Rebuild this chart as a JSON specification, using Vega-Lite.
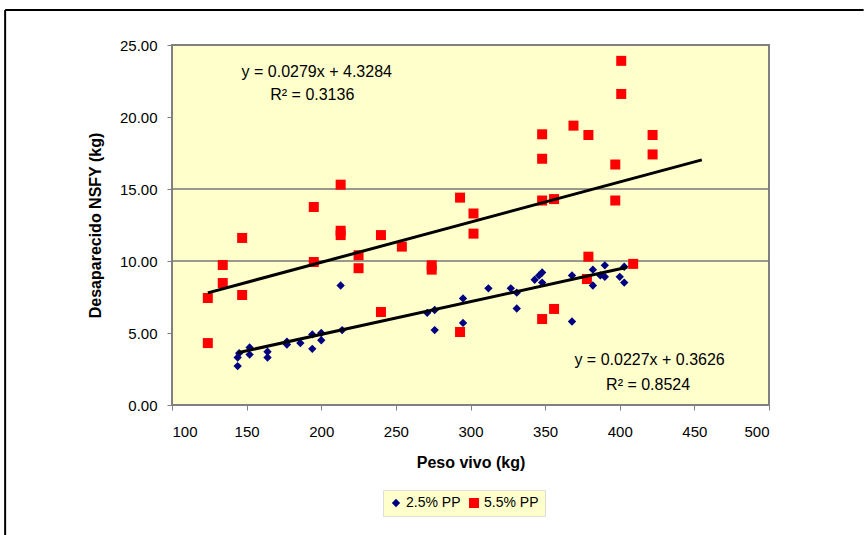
{
  "$schema": "https://vega.github.io/schema/vega-lite/v6.json",
  "width": 597,
  "height": 360,
  "autosize": {"type": "none"},
  "padding": {"left": 172, "top": 45, "right": 95, "bottom": 130},
  "background": "white",
  "config": {
    "font": "Liberation Sans",
    "view": {"fill": "#FFFFCC", "stroke": "#808080", "strokeWidth": 2},
    "axis": {
      "labelFont": "Liberation Sans",
      "labelFontSize": 15,
      "labelColor": "#000000",
      "titleFont": "Liberation Sans",
      "titleFontSize": 16,
      "titleFontWeight": "bold",
      "titleColor": "#000000",
      "grid": false,
      "domain": false,
      "tickColor": "#808080",
      "tickSize": 5
    }
  },
  "datasets": {
    "points": [
      {"x": 124, "y": 7.43, "serie": "5.5% PP"},
      {"x": 124, "y": 4.3, "serie": "5.5% PP"},
      {"x": 134, "y": 9.72, "serie": "5.5% PP"},
      {"x": 134, "y": 8.47, "serie": "5.5% PP"},
      {"x": 147, "y": 11.6, "serie": "5.5% PP"},
      {"x": 147, "y": 7.64, "serie": "5.5% PP"},
      {"x": 195, "y": 13.75, "serie": "5.5% PP"},
      {"x": 195, "y": 9.93, "serie": "5.5% PP"},
      {"x": 213, "y": 15.3, "serie": "5.5% PP"},
      {"x": 213, "y": 12.1, "serie": "5.5% PP"},
      {"x": 213, "y": 11.8, "serie": "5.5% PP"},
      {"x": 225, "y": 10.4, "serie": "5.5% PP"},
      {"x": 225, "y": 9.5, "serie": "5.5% PP"},
      {"x": 240, "y": 11.8, "serie": "5.5% PP"},
      {"x": 240, "y": 6.46, "serie": "5.5% PP"},
      {"x": 254, "y": 11.0, "serie": "5.5% PP"},
      {"x": 274, "y": 9.7, "serie": "5.5% PP"},
      {"x": 274, "y": 9.4, "serie": "5.5% PP"},
      {"x": 293, "y": 14.4, "serie": "5.5% PP"},
      {"x": 293, "y": 5.07, "serie": "5.5% PP"},
      {"x": 302, "y": 13.3, "serie": "5.5% PP"},
      {"x": 302, "y": 11.9, "serie": "5.5% PP"},
      {"x": 348, "y": 18.8, "serie": "5.5% PP"},
      {"x": 348, "y": 17.1, "serie": "5.5% PP"},
      {"x": 348, "y": 14.2, "serie": "5.5% PP"},
      {"x": 348, "y": 5.97, "serie": "5.5% PP"},
      {"x": 356, "y": 14.3, "serie": "5.5% PP"},
      {"x": 356, "y": 6.67, "serie": "5.5% PP"},
      {"x": 369, "y": 19.4, "serie": "5.5% PP"},
      {"x": 379, "y": 18.75, "serie": "5.5% PP"},
      {"x": 379, "y": 10.3, "serie": "5.5% PP"},
      {"x": 378, "y": 8.75, "serie": "5.5% PP"},
      {"x": 397, "y": 16.7, "serie": "5.5% PP"},
      {"x": 397, "y": 14.2, "serie": "5.5% PP"},
      {"x": 401, "y": 23.9, "serie": "5.5% PP"},
      {"x": 401, "y": 21.6, "serie": "5.5% PP"},
      {"x": 409, "y": 9.8, "serie": "5.5% PP"},
      {"x": 422, "y": 18.75, "serie": "5.5% PP"},
      {"x": 422, "y": 17.4, "serie": "5.5% PP"},
      {"x": 144, "y": 2.7, "serie": "2.5% PP"},
      {"x": 144, "y": 3.3, "serie": "2.5% PP"},
      {"x": 145, "y": 3.6, "serie": "2.5% PP"},
      {"x": 152, "y": 4.0, "serie": "2.5% PP"},
      {"x": 152, "y": 3.5, "serie": "2.5% PP"},
      {"x": 164, "y": 3.7, "serie": "2.5% PP"},
      {"x": 164, "y": 3.3, "serie": "2.5% PP"},
      {"x": 177, "y": 4.4, "serie": "2.5% PP"},
      {"x": 177, "y": 4.2, "serie": "2.5% PP"},
      {"x": 186, "y": 4.3, "serie": "2.5% PP"},
      {"x": 194, "y": 4.9, "serie": "2.5% PP"},
      {"x": 194, "y": 3.9, "serie": "2.5% PP"},
      {"x": 200, "y": 5.0, "serie": "2.5% PP"},
      {"x": 200, "y": 4.5, "serie": "2.5% PP"},
      {"x": 214, "y": 5.2, "serie": "2.5% PP"},
      {"x": 213, "y": 8.3, "serie": "2.5% PP"},
      {"x": 271, "y": 6.4, "serie": "2.5% PP"},
      {"x": 276, "y": 6.6, "serie": "2.5% PP"},
      {"x": 276, "y": 5.2, "serie": "2.5% PP"},
      {"x": 295, "y": 7.4, "serie": "2.5% PP"},
      {"x": 295, "y": 5.7, "serie": "2.5% PP"},
      {"x": 312, "y": 8.1, "serie": "2.5% PP"},
      {"x": 327, "y": 8.1, "serie": "2.5% PP"},
      {"x": 331, "y": 7.8, "serie": "2.5% PP"},
      {"x": 331, "y": 6.7, "serie": "2.5% PP"},
      {"x": 343, "y": 8.7, "serie": "2.5% PP"},
      {"x": 346, "y": 9.0, "serie": "2.5% PP"},
      {"x": 348, "y": 8.5, "serie": "2.5% PP"},
      {"x": 348, "y": 9.2, "serie": "2.5% PP"},
      {"x": 368, "y": 9.0, "serie": "2.5% PP"},
      {"x": 368, "y": 5.8, "serie": "2.5% PP"},
      {"x": 382, "y": 9.4, "serie": "2.5% PP"},
      {"x": 382, "y": 8.3, "serie": "2.5% PP"},
      {"x": 387, "y": 9.0, "serie": "2.5% PP"},
      {"x": 390, "y": 9.7, "serie": "2.5% PP"},
      {"x": 390, "y": 8.9, "serie": "2.5% PP"},
      {"x": 403, "y": 9.6, "serie": "2.5% PP"},
      {"x": 403, "y": 8.5, "serie": "2.5% PP"},
      {"x": 400, "y": 8.9, "serie": "2.5% PP"}
    ],
    "trends": [
      {"x": 124, "y": 7.79, "serie": "5.5% PP"},
      {"x": 455, "y": 17.02, "serie": "5.5% PP"},
      {"x": 144, "y": 3.63, "serie": "2.5% PP"},
      {"x": 405, "y": 9.56, "serie": "2.5% PP"}
    ],
    "labels": [
      {"x": 197, "y": 23.1, "label": "y = 0.0279x + 4.3284"},
      {"x": 194, "y": 21.5, "label": "R² = 0.3136"},
      {"x": 420, "y": 3.1, "label": "y = 0.0227x + 0.3626"},
      {"x": 419, "y": 1.4, "label": "R² = 0.8524"}
    ],
    "grid": [{"y": 10}, {"y": 15}],
    "frame": [
      {"x": -11.8, "x2": 563.4, "y": 27.43, "y2": 27.43},
      {"x": -11.8, "x2": -11.8, "y": 27.43, "y2": -9.03}
    ]
  },
  "layer": [
    {
      "data": {"name": "frame"},
      "mark": {"type": "rule", "color": "#000000", "strokeWidth": 2, "clip": false},
      "encoding": {
        "x": {"field": "x", "type": "quantitative", "scale": {"domain": [100, 500], "nice": false, "zero": false}, "title": "Peso vivo (kg)"},
        "x2": {"field": "x2"},
        "y": {"field": "y", "type": "quantitative", "scale": {"domain": [0, 25], "nice": false}, "title": "Desaparecido NSFY (kg)"},
        "y2": {"field": "y2"}
      }
    },
    {
      "data": {"name": "grid"},
      "mark": {"type": "rule", "color": "#777777", "strokeWidth": 1.5},
      "encoding": {
        "y": {"field": "y", "type": "quantitative", "title": "Desaparecido NSFY (kg)"}
      }
    },
    {
      "data": {"name": "points"},
      "mark": {"type": "point", "filled": true, "opacity": 1},
      "encoding": {
        "x": {
          "field": "x", "type": "quantitative", "title": "Peso vivo (kg)",
          "axis": {"values": [100, 150, 200, 250, 300, 350, 400, 450, 500], "format": "d", "labelPadding": 14, "titlePadding": 15}
        },
        "y": {
          "field": "y", "type": "quantitative", "title": "Desaparecido NSFY (kg)",
          "axis": {"values": [0, 5, 10, 15, 20, 25], "format": ".2f", "labelPadding": 10, "titlePadding": 16}
        },
        "color": {
          "field": "serie", "type": "nominal",
          "scale": {"domain": ["2.5% PP", "5.5% PP"], "range": ["#000080", "#FF0000"]},
          "legend": {
            "orient": "none", "legendX": 211, "legendY": 445, "direction": "horizontal",
            "title": null, "fillColor": "#FFFFCC", "strokeColor": "#DDDDDD", "padding": 6,
            "labelFont": "Liberation Sans", "labelFontSize": 14, "labelColor": "#000000",
            "symbolSize": 70, "columnPadding": 6, "labelOffset": 3
          }
        },
        "shape": {
          "field": "serie", "type": "nominal",
          "scale": {"domain": ["2.5% PP", "5.5% PP"], "range": ["diamond", "square"]}
        },
        "size": {
          "field": "serie", "type": "nominal",
          "scale": {"domain": ["2.5% PP", "5.5% PP"], "range": [70, 100]},
          "legend": null
        }
      }
    },
    {
      "data": {"name": "trends"},
      "mark": {"type": "line", "color": "#000000", "strokeWidth": 3},
      "encoding": {
        "x": {"field": "x", "type": "quantitative", "title": "Peso vivo (kg)"},
        "y": {"field": "y", "type": "quantitative", "title": "Desaparecido NSFY (kg)"},
        "detail": {"field": "serie"}
      }
    },
    {
      "data": {"name": "labels"},
      "mark": {"type": "text", "font": "Liberation Sans", "fontSize": 16, "color": "#000000", "align": "center", "baseline": "middle"},
      "encoding": {
        "x": {"field": "x", "type": "quantitative", "title": "Peso vivo (kg)"},
        "y": {"field": "y", "type": "quantitative", "title": "Desaparecido NSFY (kg)"},
        "text": {"field": "label"}
      }
    }
  ]
}
